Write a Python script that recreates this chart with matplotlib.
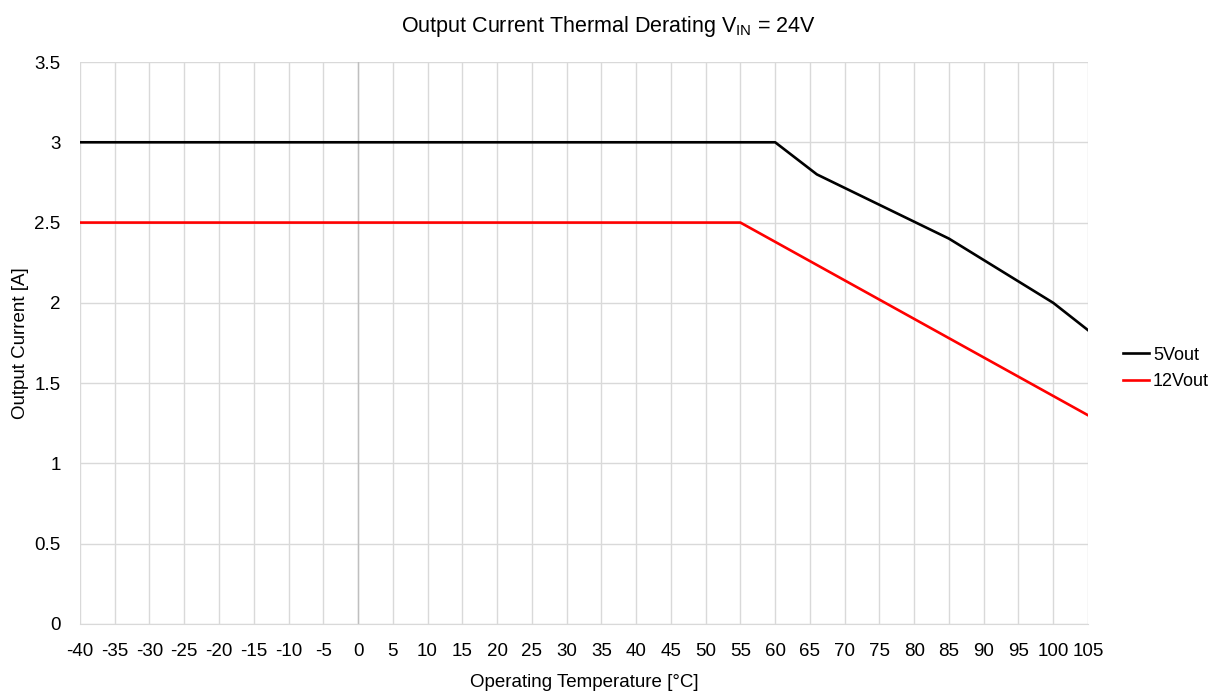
import numpy as np
import matplotlib
matplotlib.use("Agg")
import matplotlib.pyplot as plt
from matplotlib import font_manager

# --- data ---
temp_5v = [-40, 60, 66, 85, 100, 105]
curr_5v = [3.0, 3.0, 2.8, 2.4, 2.0, 1.83]

temp_12v = [-40, 55, 105]
curr_12v = [2.5, 2.5, 1.3]

x_ticks = list(range(-40, 106, 5))
y_ticks = [0, 0.5, 1, 1.5, 2, 2.5, 3, 3.5]
y_tick_labels = ['0', '0.5', '1', '1.5', '2', '2.5', '3', '3.5']

# --- font: narrow sans if available ---
names = {f.name for f in font_manager.fontManager.ttflist}
fam = 'Liberation Sans Narrow' if 'Liberation Sans Narrow' in names else 'Liberation Sans'
plt.rcParams['font.family'] = [fam, 'DejaVu Sans']
plt.rcParams['mathtext.fontset'] = 'custom'
plt.rcParams['mathtext.rm'] = fam
plt.rcParams['mathtext.it'] = fam

fig = plt.figure(figsize=(12.17, 6.92), dpi=100)
ax = fig.add_axes([0.0657, 0.0983, 0.8283, 0.8121])

ax.plot(temp_5v, curr_5v, color='black', linewidth=1.9, label='5Vout')
ax.plot(temp_12v, curr_12v, color='#ff0000', linewidth=1.9, label='12Vout')

ax.set_xlim(-40, 105)
ax.set_ylim(0, 3.5)
ax.set_xticks(x_ticks)
ax.set_xticklabels([str(t) for t in x_ticks])
ax.set_yticks(y_ticks)
ax.set_yticklabels(y_tick_labels)
ax.tick_params(axis='both', length=0, labelsize=13.5, colors='black')
ax.tick_params(axis='x', pad=14)
ax.tick_params(axis='y', pad=14)

ax.grid(True, color='#d9d9d9', linewidth=1)
ax.set_axisbelow(True)
ax.axvline(0, color='#bfbfbf', linewidth=1, zorder=1)
for s in ['top', 'right', 'left']:
    ax.spines[s].set_visible(False)
ax.spines['bottom'].set_color('#d9d9d9')

ax.set_xlabel('Operating Temperature [°C]', fontsize=13.5, labelpad=10)
ax.set_ylabel('Output Current [A]', fontsize=13.5, labelpad=4)
fig.suptitle(r'Output Current Thermal Derating V$_{\mathrm{IN}}$ = 24V',
             fontsize=15.5, y=0.98)

ax.legend(loc='center left', bbox_to_anchor=(0.917, 0.4675),
          bbox_transform=fig.transFigure, frameon=False, borderaxespad=0,
          fontsize=13, handlelength=1.44, handletextpad=0.2, labelspacing=0.55)

fig.savefig('out.png', dpi=100)
